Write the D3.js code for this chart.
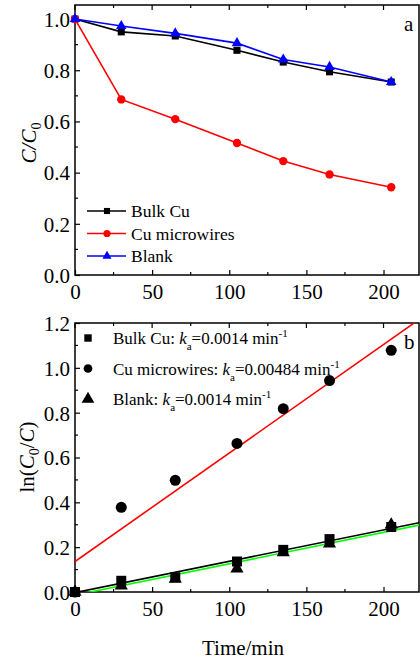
<!DOCTYPE html>
<html>
<head>
<meta charset="utf-8">
<script src="https://cdn.jsdelivr.net/npm/d3@7"></script>
<style>
  body { margin: 0; background: #fff; }
  svg text { font-family: "Liberation Serif", "Times New Roman", serif; fill: #000; }
</style>
</head>
<body>
<div class="graph"></div>
<script>
// sampling times (min)
var times = [0, 30, 65, 105, 135, 165, 205];

// panel a: C/C0
var bulkCu = [1.0, 0.950, 0.934, 0.878, 0.832, 0.794, 0.754];
var cuWires = [1.0, 0.686, 0.609, 0.516, 0.445, 0.393, 0.343];
var blank = [1.0, 0.973, 0.944, 0.906, 0.842, 0.813, 0.754];

// panel b: ln(C0/C)
var lnBulk = [0, 0.050, 0.066, 0.136, 0.188, 0.236, 0.290];
var lnWires = [0, 0.378, 0.498, 0.663, 0.818, 0.943, 1.078];
var lnBlank = [0, 0.028, 0.058, 0.104, 0.176, 0.216, 0.300];

// linear fits: [intercept, slope]
var fitBulk = [-0.003, 0.0014];
var fitWires = [0.136, 0.00484];
var fitBlank = [-0.014, 0.0014];

var xTicks = [0, 50, 100, 150, 200];
var yTicksA = [0.0, 0.2, 0.4, 0.6, 0.8, 1.0];
var yTicksB = [0.0, 0.2, 0.4, 0.6, 0.8, 1.0, 1.2];

var W = 420, H = 662;
var left = 75, right = 419;

var svg = d3.select(".graph").append("svg")
  .attr("width", W).attr("height", H);

var x = d3.scaleLinear().domain([0, 223]).range([left, right]);
var ya = d3.scaleLinear().domain([0, 1.055]).range([275, 5]);
var yb = d3.scaleLinear().domain([0, 1.2]).range([592, 323]);

svg.append("defs").append("clipPath").attr("id", "clipb")
  .append("rect").attr("x", left).attr("y", 323)
  .attr("width", right - left).attr("height", 592 - 323);

function frame(y, yTicks, yMax) {
  var g = svg.append("g");
  var top = y.range()[1], bot = y.range()[0];
  // bottom axis
  var xb = d3.axisBottom(x).tickValues(xTicks).tickSize(-5).tickPadding(9).tickFormat(d3.format("d"));
  var gx = g.append("g").attr("transform", "translate(0," + bot + ")").call(xb);
  gx.select(".domain").remove();
  gx.selectAll("text").attr("font-size", 21).attr("dy", "0.75em").attr("y", 8);
  // minor x ticks bottom & top
  var minorX = [25, 75, 125, 175, 225].filter(function(d){ return d <= 223; });
  g.selectAll(".mxb").data(minorX).enter().append("line")
    .attr("x1", x).attr("x2", x).attr("y1", bot).attr("y2", bot - 3)
    .attr("stroke", "#000").attr("stroke-width", 1.2);
  g.selectAll(".mxt").data(xTicks.concat(minorX)).enter().append("line")
    .attr("x1", x).attr("x2", x).attr("y1", top)
    .attr("y2", function(d){ return top + (d % 50 === 0 ? 5 : 3); })
    .attr("stroke", "#000").attr("stroke-width", 1.2);
  // left axis
  var yl = d3.axisLeft(y).tickValues(yTicks).tickSize(-5).tickPadding(5).tickFormat(d3.format(".1f"));
  var gy = g.append("g").attr("transform", "translate(" + left + ",0)").call(yl);
  gy.select(".domain").remove();
  gy.selectAll("text").attr("font-size", 21).attr("dy", "0.35em");
  var minorY = d3.range(0.1, yMax, 0.2);
  g.selectAll(".my").data(minorY).enter().append("line")
    .attr("x1", left).attr("x2", left + 3).attr("y1", y).attr("y2", y)
    .attr("stroke", "#000").attr("stroke-width", 1.2);
  g.selectAll(".tick line").attr("stroke-width", 1.2);
  // box
  g.append("rect").attr("x", left).attr("y", top)
    .attr("width", right - left).attr("height", bot - top)
    .attr("fill", "none").attr("stroke", "#000").attr("stroke-width", 1.5);
}

function marker(type, size) {
  var sym = type === "square" ? d3.symbolSquare : type === "circle" ? d3.symbolCircle : d3.symbolTriangle;
  return d3.symbol().type(sym).size(size)();
}

// ---------- panel a ----------
frame(ya, yTicksA, 1.0);

var seriesA = [
  { vals: bulkCu, color: "#000000", type: "square", size: 50, name: "Bulk Cu" },
  { vals: cuWires, color: "#ff0000", type: "circle", size: 55, name: "Cu microwires" },
  { vals: blank, color: "#0000ff", type: "triangle", size: 48, name: "Blank" }
];

var lineA = d3.line().x(function(d, i){ return x(times[i]); }).y(function(d){ return ya(d); });

seriesA.forEach(function(s) {
  svg.append("path").datum(s.vals).attr("d", lineA)
    .attr("fill", "none").attr("stroke", s.color).attr("stroke-width", 1.6);
  svg.selectAll(null).data(s.vals).enter().append("path")
    .attr("d", marker(s.type, s.size))
    .attr("transform", function(d, i){ return "translate(" + x(times[i]) + "," + ya(d) + ")"; })
    .attr("fill", s.color);
});

var legA = svg.append("g");
seriesA.forEach(function(s, i) {
  var yy = 211 + i * 22.5;
  legA.append("line").attr("x1", 87).attr("x2", 126).attr("y1", yy).attr("y2", yy)
    .attr("stroke", s.color).attr("stroke-width", 1.6);
  legA.append("path").attr("d", marker(s.type, s.size * 0.75))
    .attr("transform", "translate(107," + yy + ")").attr("fill", s.color);
  legA.append("text").attr("x", 131).attr("y", yy + 6).attr("font-size", 17.5).text(s.name);
});

svg.append("text").attr("x", 404).attr("y", 31).attr("font-size", 21).text("a");

var labA = svg.append("text").attr("transform", "translate(36,143) rotate(-90)")
  .attr("text-anchor", "middle").attr("font-size", 21);
labA.append("tspan").attr("font-style", "italic").text("C/C");
labA.append("tspan").attr("font-size", 14).attr("dy", 5).text("0");

// ---------- panel b ----------
frame(yb, yTicksB, 1.2);

var fits = [
  { f: fitWires, color: "#ff0000" },
  { f: fitBulk, color: "#000000" },
  { f: fitBlank, color: "#00ff00" }
];
fits.forEach(function(s) {
  var pts = [0, 223].map(function(t){ return [t, s.f[0] + s.f[1] * t]; });
  svg.append("path").datum(pts)
    .attr("d", d3.line().x(function(d){ return x(d[0]); }).y(function(d){ return yb(d[1]); }))
    .attr("clip-path", "url(#clipb)")
    .attr("fill", "none").attr("stroke", s.color).attr("stroke-width", 1.6);
});

var seriesB = [
  { vals: lnBulk, type: "square", size: 100, name: "Bulk Cu: ", k: "0.0014" },
  { vals: lnWires, type: "circle", size: 95, name: "Cu microwires: ", k: "0.00484" },
  { vals: lnBlank, type: "triangle", size: 75, name: "Blank: ", k: "0.0014" }
];

seriesB.forEach(function(s) {
  svg.selectAll(null).data(s.vals).enter().append("path")
    .attr("d", marker(s.type, s.size))
    .attr("transform", function(d, i){ return "translate(" + x(times[i]) + "," + yb(d) + ")"; })
    .attr("fill", "#000");
});

var legB = svg.append("g");
var legSizes = [55, 60, 70];
seriesB.forEach(function(s, i) {
  var yy = 338 + i * 30.5;
  legB.append("path").attr("d", marker(s.type, legSizes[i]))
    .attr("transform", "translate(88," + yy + ")").attr("fill", "#000");
  var t = legB.append("text").attr("x", 113).attr("y", yy + 6).attr("font-size", 17);
  t.append("tspan").text(s.name);
  t.append("tspan").attr("font-style", "italic").text("k");
  t.append("tspan").attr("font-size", 11).attr("dy", 6).text("a");
  t.append("tspan").attr("dy", -6).text("=" + s.k + " min");
  t.append("tspan").attr("font-size", 11).attr("dy", -7).text("-1");
});

svg.append("text").attr("x", 404).attr("y", 349).attr("font-size", 21).text("b");

var labB = svg.append("text").attr("transform", "translate(34,457) rotate(-90)")
  .attr("text-anchor", "middle").attr("font-size", 21);
labB.append("tspan").text("ln(");
labB.append("tspan").attr("font-style", "italic").text("C");
labB.append("tspan").attr("font-size", 14).attr("dy", 5).text("0");
labB.append("tspan").attr("dy", -5).text("/");
labB.append("tspan").attr("font-style", "italic").text("C");
labB.append("tspan").text(")");

svg.append("text").attr("x", 243).attr("y", 655).attr("text-anchor", "middle")
  .attr("font-size", 21).text("Time/min");
</script>
</body>
</html>
